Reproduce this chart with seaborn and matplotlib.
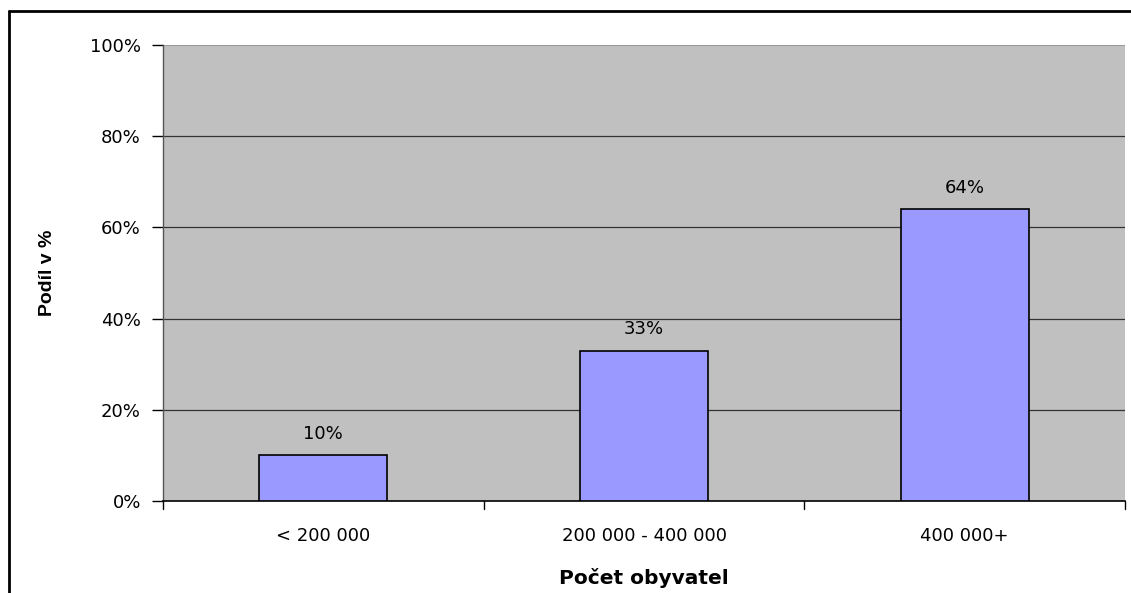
import matplotlib
matplotlib.use("Agg")
import matplotlib.pyplot as plt
from matplotlib.lines import Line2D
from matplotlib.ticker import MultipleLocator, PercentFormatter
import seaborn as sns
import pandas as pd

categories = ["< 200 000", "200 000 - 400 000", "400 000+"]
shares = [10, 33, 64]
bar_labels = ["10%", "33%", "64%"]

sns.set_theme(style="white")
plt.rcParams["font.family"] = ["DejaVu Sans"]

df = pd.DataFrame({"kategorie": categories, "podil": shares})

fig = plt.figure(figsize=(11.31, 5.93), dpi=100)
ax = fig.add_axes([163 / 1131, 92 / 593, (1125 - 163) / 1131, (501 - 45) / 593])
ax.set_facecolor("#C0C0C0")

sns.barplot(data=df, x="kategorie", y="podil", color="#9999FF", width=0.4,
            edgecolor="black", linewidth=1.2, saturation=1, ax=ax, zorder=3)

ax.set_ylim(0, 100)
ax.set_xlim(-0.5, 2.5)
ax.yaxis.set_major_locator(MultipleLocator(20))
ax.yaxis.set_major_formatter(PercentFormatter(decimals=0))

for y in (20, 40, 60, 80):
    ax.axhline(y, color="#333333", linewidth=0.9, zorder=1)

for s in ("top", "right"):
    ax.spines[s].set_visible(False)
ax.axhline(100, color="#999999", linewidth=1.5, zorder=1)
ax.spines["left"].set_color("#555555")
ax.spines["left"].set_linewidth(1.0)
ax.spines["bottom"].set_color("black")
ax.spines["bottom"].set_linewidth(1.2)

label_size = 13
ax.tick_params(axis="y", which="major", left=True, length=8, width=1,
               color="black", labelsize=label_size, pad=8, labelcolor="black")
ax.set_xticks([0, 1, 2])
ax.set_xticklabels(categories)
ax.tick_params(axis="x", which="major", bottom=False, labelsize=label_size,
               pad=13, labelcolor="black")
for xb in (-0.5, 0.5, 1.5, 2.5):
    ax.plot([xb, xb], [0, -0.018], transform=ax.get_xaxis_transform(),
            color="black", linewidth=1, clip_on=False)

for i, (v, lab) in enumerate(zip(shares, bar_labels)):
    ax.annotate(lab, (i, v), xytext=(0, 9), textcoords="offset points",
                ha="center", va="bottom", fontsize=label_size, color="black")

ax.set_xlabel("Počet obyvatel", fontsize=14.5, fontweight="bold",
              color="black", va="center")
ax.xaxis.set_label_coords(0.5, -(578 - 501) / 456)
ax.set_ylabel("Podíl v %", fontsize=14, fontweight="bold", color="black",
              family="Liberation Sans", va="center")
ax.yaxis.set_label_coords((47 - 163) / 962, 0.5)

# figure frame: top and left edges
fig.add_artist(Line2D([9 / 1131, 1], [1 - 11 / 593, 1 - 11 / 593],
                      transform=fig.transFigure, color="black", linewidth=2))
fig.add_artist(Line2D([9 / 1131, 9 / 1131], [0, 1 - 11 / 593],
                      transform=fig.transFigure, color="black", linewidth=2))

fig.savefig("out.png", dpi=100, facecolor="white")
